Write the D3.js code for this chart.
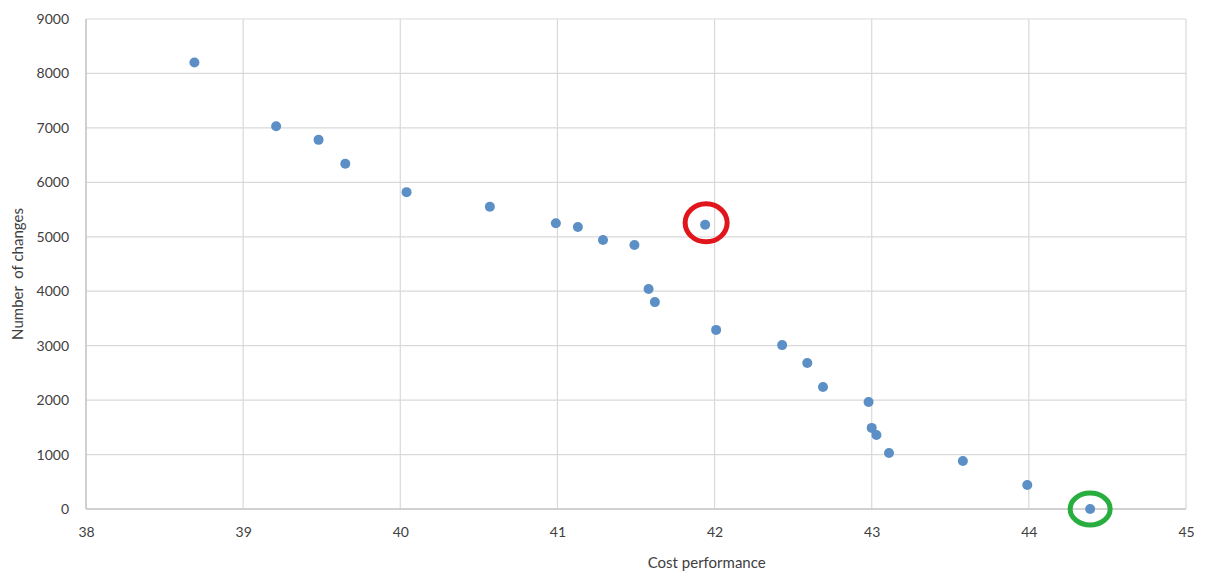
<!DOCTYPE html>
<html>
<head>
<meta charset="utf-8">
<script src="https://cdn.jsdelivr.net/npm/d3@7"></script>
<style>
  body { margin: 0; background: #fff; }
  text { font-family: Lato, "Open Sans", sans-serif; fill: #404040; }
</style>
</head>
<body>
<div id="chart"></div>
<script>
// cost performance vs number of changes
const costPerformance = [38.69, 39.21, 39.48, 39.65, 40.04, 40.57, 40.99, 41.13, 41.29, 41.49,
    41.58, 41.62, 41.94, 42.01, 42.43, 42.59, 42.69, 42.98, 43.0, 43.03, 43.11, 43.58, 43.99, 44.39];
const numChanges = [8200, 7030, 6780, 6340, 5820, 5550, 5250, 5180, 4940, 4850,
    4040, 3800, 5220, 3290, 3010, 2680, 2240, 1965, 1490, 1360, 1030, 880, 440, 0];
const xTicks = [38, 39, 40, 41, 42, 43, 44, 45];
const yTicks = [0, 1000, 2000, 3000, 4000, 5000, 6000, 7000, 8000, 9000];
const redIndex = 12;   // circled in red
const greenIndex = 23; // circled in green

const width = 1208, height = 573;
const margins = { top: 19, right: 22, bottom: 64, left: 86 };
const chartWidth = width - margins.left - margins.right;
const chartHeight = height - margins.top - margins.bottom;

const svg = d3.select("#chart").append("svg")
    .attr("width", width)
    .attr("height", height);
const g = svg.append("g")
    .attr("transform", `translate(${margins.left},${margins.top})`);

const xScale = d3.scaleLinear().domain([38, 45]).range([0, chartWidth]);
const yScale = d3.scaleLinear().domain([0, 9000]).range([chartHeight, 0]);

// gridlines
g.selectAll(".vgrid").data(xTicks).enter().append("line")
    .attr("x1", d => xScale(d)).attr("x2", d => xScale(d))
    .attr("y1", 0).attr("y2", chartHeight)
    .attr("stroke", "#d9d9d9").attr("stroke-width", 1.2);
g.selectAll(".hgrid").data(yTicks).enter().append("line")
    .attr("x1", 0).attr("x2", chartWidth)
    .attr("y1", d => yScale(d)).attr("y2", d => yScale(d))
    .attr("stroke", "#d9d9d9").attr("stroke-width", 1.2);

// axes, lines hidden, just labels
const xAxis = g.append("g")
    .attr("transform", `translate(0,${chartHeight})`)
    .call(d3.axisBottom(xScale).tickValues(xTicks).tickFormat(d3.format("d")).tickSize(0).tickPadding(18));
const yAxis = g.append("g")
    .call(d3.axisLeft(yScale).tickValues(yTicks).tickFormat(d3.format("d")).tickSize(0).tickPadding(17));
[xAxis, yAxis].forEach(a => {
    a.select(".domain").remove();
    a.selectAll("text").attr("font-size", 14).attr("fill", "#404040")
        .style("font-family", "Lato, 'Open Sans', sans-serif");
});
g.append("line")
    .attr("x1", 0).attr("x2", 0).attr("y1", 0).attr("y2", chartHeight)
    .attr("stroke", "#c8c8c8").attr("stroke-width", 1.5);
g.append("line")
    .attr("x1", 0).attr("x2", chartWidth).attr("y1", chartHeight).attr("y2", chartHeight)
    .attr("stroke", "#c8c8c8").attr("stroke-width", 1.5);

// points
const data = costPerformance.map((c, i) => ({ x: c, y: numChanges[i] }));
g.selectAll(".dot").data(data).enter().append("circle")
    .attr("class", "dot")
    .attr("cx", d => xScale(d.x))
    .attr("cy", d => yScale(d.y))
    .attr("r", 5)
    .attr("fill", "#5b8fc6");

// highlight ellipses
g.append("ellipse")
    .attr("cx", xScale(data[redIndex].x) + 1)
    .attr("cy", yScale(data[redIndex].y) - 2)
    .attr("rx", 21).attr("ry", 19)
    .attr("fill", "none").attr("stroke", "#e0161c").attr("stroke-width", 5);
g.append("ellipse")
    .attr("cx", xScale(data[greenIndex].x))
    .attr("cy", yScale(data[greenIndex].y))
    .attr("rx", 20).attr("ry", 16)
    .attr("fill", "none").attr("stroke", "#27ae3f").attr("stroke-width", 5);

// axis titles
svg.append("text")
    .attr("x", margins.left + xScale(41.95))
    .attr("y", 568)
    .attr("text-anchor", "middle")
    .attr("font-size", 15)
    .text("Cost performance");
svg.append("text")
    .attr("transform", `translate(23,${margins.top + chartHeight / 2 + 10}) rotate(-90)`)
    .attr("text-anchor", "middle")
    .attr("font-size", 15)
    .style("white-space", "pre")
    .text("Number  of changes");
</script>
</body>
</html>
